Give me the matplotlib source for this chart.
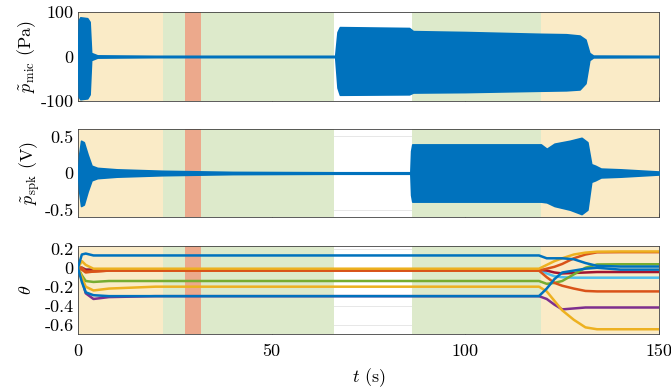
"""Microphone, speaker and parameter traces over time"""
import matplotlib
matplotlib.use("Agg")
import matplotlib.pyplot as plt

plt.rcParams['font.family'] = 'serif'
plt.rcParams['font.serif'] = ['cmr10', 'DejaVu Serif']
plt.rcParams['mathtext.fontset'] = 'cm'
plt.rcParams['axes.unicode_minus'] = False

# MATLAB default colours
BLUE = '#0072BD'
ORANGE = '#D95319'
YELLOW = '#EDB120'
PURPLE = '#7E2F8E'
GREEN = '#77AC30'
LIGHTBLUE = '#4DBEEE'
DARKRED = '#A2142F'

# shaded phases: (start, end, colour)
phase_start = [0, 22, 86.2]
phase_end = [22, 66.2, 119.5]
phase_kind = ['yellow', 'green', 'green']
late_phase = (119.5, 150)
red_start, red_end = 27.6, 31.8
span_colors = {'yellow': '#FAEBC7', 'green': '#DDEACB', 'red': '#ECA98C'}

# microphone pressure envelope (Pa)
mic_t = [0, 0.2, 0.6, 2.4, 3.0, 3.4, 5, 20, 66.4, 67.0, 67.6, 85.5, 86.5,
         100, 119, 126, 129.5, 131, 132, 133, 150]
mic_up = [0, 82, 88, 86, 78, 8, 2.5, 1.5, 1.5, 55, 66, 64, 57,
          55, 51, 50, 47, 38, 8, 2, 1.5]
mic_lo = [0, -90, -96, -94, -85, -8, -2.5, -1.5, -1.5, -70, -86, -85, -81,
          -80, -77, -76, -74, -60, -8, -2, -1.5]

# speaker voltage envelope (V)
spk_t = [0, 0.3, 0.8, 1.5, 2.5, 3.5, 5, 10, 22, 40, 66, 85.8, 86.0, 86.3,
         100, 119.5, 121, 123, 127, 130, 131.5, 132.5, 133.5, 135, 140, 150]
spk_up = [0, 0.25, 0.44, 0.42, 0.25, 0.1, 0.07, 0.05, 0.03, 0.015, 0.01,
          0.01, 0.3, 0.39, 0.39, 0.39, 0.33, 0.4, 0.44, 0.48, 0.42, 0.12,
          0.1, 0.06, 0.05, 0.02]
spk_lo = [0, -0.25, -0.45, -0.43, -0.25, -0.1, -0.07, -0.05, -0.03, -0.015,
          -0.01, -0.01, -0.3, -0.39, -0.39, -0.39, -0.4, -0.45, -0.5, -0.56,
          -0.5, -0.12, -0.1, -0.06, -0.05, -0.02]

# parameter trajectories theta
theta_t = [0, 1, 2, 4, 8, 20, 119, 121, 123, 125, 128, 131, 134, 140, 150]
theta_lines = [
    (PURPLE, [0, -0.12, -0.27, -0.33, -0.31, -0.3, -0.3, -0.33, -0.39, -0.44,
              -0.43, -0.42, -0.42, -0.42, -0.42]),
    (LIGHTBLUE, [0, 0.0, -0.02, -0.02, -0.02, -0.02, -0.02, -0.06, -0.09,
                 -0.1, -0.105, -0.105, -0.105, -0.105, -0.105]),
    (DARKRED, [0, 0.0, -0.02, -0.02, -0.02, -0.02, -0.02, -0.03, -0.05,
               -0.06, -0.055, -0.05, -0.045, -0.045, -0.045]),
    (GREEN, [0, -0.08, -0.14, -0.15, -0.14, -0.14, -0.14, -0.17, -0.16,
             -0.14, -0.07, 0.0, 0.035, 0.037, 0.037]),
    (ORANGE, [0, -0.02, -0.05, -0.04, -0.03, -0.03, -0.03, -0.1, -0.16,
              -0.19, -0.22, -0.245, -0.25, -0.25, -0.25]),
    (ORANGE, [0, 0.0, -0.04, -0.04, -0.03, -0.03, -0.03, -0.01, 0.01, 0.04,
              0.1, 0.14, 0.163, 0.165, 0.165]),
    (YELLOW, [0, -0.1, -0.2, -0.24, -0.22, -0.2, -0.2, -0.25, -0.35, -0.45,
              -0.55, -0.63, -0.65, -0.65, -0.65]),
    (YELLOW, [0, 0.07, 0.03, -0.01, -0.01, -0.01, -0.01, 0.03, 0.07, 0.1,
              0.14, 0.16, 0.17, 0.172, 0.172]),
    (BLUE, [0, -0.15, -0.26, -0.29, -0.3, -0.3, -0.3, -0.22, -0.12, -0.05,
            -0.03, -0.01, 0.0, -0.02, -0.02]),
    (BLUE, [0, 0.14, 0.15, 0.13, 0.13, 0.13, 0.13, 0.1, 0.1, 0.1, 0.09,
            0.05, 0.02, 0.013, 0.013]),
]

x_ticks = [0, 50, 100, 150]


def shade(ax):
    """Draw the coloured phase bands"""
    for a, b, kind in zip(phase_start, phase_end, phase_kind):
        ax.axvspan(a, b, color=span_colors[kind], lw=0, zorder=1)
    ax.axvspan(*late_phase, color=span_colors['yellow'], lw=0, zorder=1)
    ax.axvspan(red_start, red_end, color=span_colors['red'], lw=0, zorder=1)


def style(ax, yticks, ylabels):
    ax.set_xlim(0, 150)
    ax.set_xticks(x_ticks)
    ax.set_yticks(yticks)
    ax.set_yticklabels(ylabels)
    ax.set_axisbelow(True)
    ax.grid(True, color='#E3E3E3', lw=0.6)
    ax.tick_params(direction='in', length=3, width=0.5, labelsize=13,
                   color='0.25', pad=3)
    for sp in ax.spines.values():
        sp.set_color('0.25')
        sp.set_linewidth(0.6)


fig = plt.figure(figsize=(6.71, 3.88), dpi=100)
ax1 = fig.add_axes([0.1162, 0.7397, 0.866, 0.2294])
ax2 = fig.add_axes([0.1162, 0.4407, 0.866, 0.2268])
ax3 = fig.add_axes([0.1162, 0.1392, 0.866, 0.2268])

# top: microphone
shade(ax1)
ax1.fill_between(mic_t, mic_lo, mic_up, color=BLUE, lw=1.2, zorder=3)
ax1.set_ylim(-100, 100)
style(ax1, [-100, 0, 100], ['-100', '0', '100'])
ax1.set_xticklabels([])
ax1.set_ylabel(r'$\tilde{p}_{\mathrm{mic}}$ (Pa)', fontsize=13, labelpad=2)

# middle: speaker
shade(ax2)
ax2.fill_between(spk_t, spk_lo, spk_up, color=BLUE, lw=1.2, zorder=3)
ax2.set_ylim(-0.6, 0.6)
style(ax2, [-0.5, 0, 0.5], ['-0.5', '0', '0.5'])
ax2.set_xticklabels([])
ax2.set_ylabel(r'$\tilde{p}_{\mathrm{spk}}$ (V)', fontsize=13, labelpad=2)

# bottom: theta
shade(ax3)
for color, vals in theta_lines:
    ax3.plot(theta_t, vals, color=color, lw=1.8, zorder=3)
ax3.set_ylim(-0.7, 0.23)
style(ax3, [-0.6, -0.4, -0.2, 0, 0.2], ['-0.6', '-0.4', '-0.2', '0', '0.2'])
ax3.set_xticklabels([str(v) for v in x_ticks])
ax3.tick_params(axis='x', pad=7)
ax3.set_ylabel(r'$\theta$', fontsize=13, labelpad=8)
ax3.set_xlabel(r'$t$ (s)', fontsize=13, labelpad=5)

fig.savefig('out.png', dpi=100)
